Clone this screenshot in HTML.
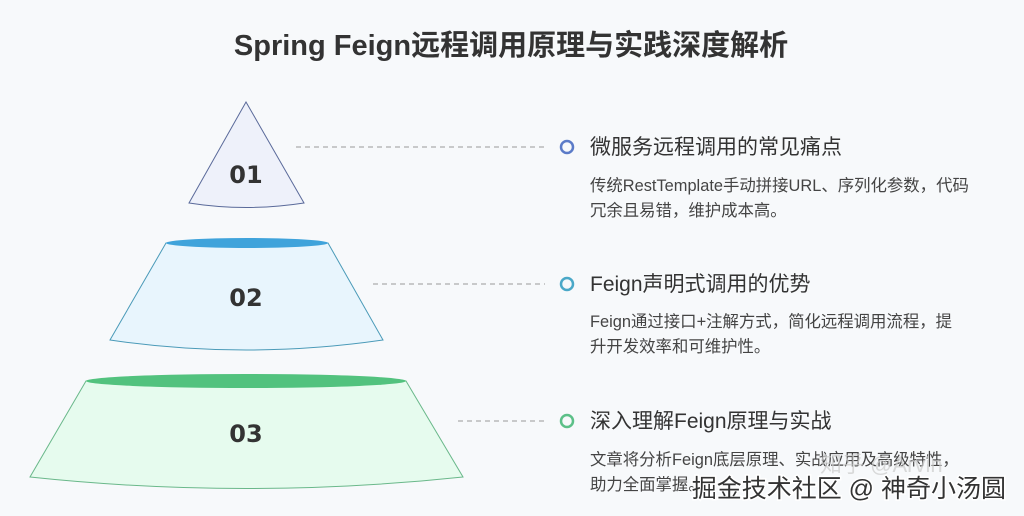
<!DOCTYPE html>
<html><head><meta charset="utf-8"><style>
body{margin:0;width:1024px;height:516px;background:#f7f9fb;overflow:hidden;font-family:"Liberation Sans","Noto Sans CJK SC",sans-serif;}
</style></head><body>
<svg width="1024" height="516" xmlns="http://www.w3.org/2000/svg" style="position:absolute;left:0;top:0">
<text x="511" y="55" text-anchor="middle" font-size="29" font-weight="bold" fill="#333" font-family="Liberation Sans, Noto Sans CJK SC, sans-serif">Spring Feign远程调用原理与实践深度解析</text>
<path d="M246,102 L304,203 Q246,212 189,203 Z" fill="#eef1fa" stroke="#5a6a9a" stroke-width="1"/>
<path d="M166,243 L328,243 L383,340 Q246,360 110,340 Z" fill="#e8f5fd" stroke="#4a9ab8" stroke-width="1"/>
<ellipse cx="247" cy="243" rx="81" ry="5" fill="#3fa3db"/>
<path d="M86,381 L406,381 L463,477 Q246,500 30,477 Z" fill="#e6fbee" stroke="#6ab88a" stroke-width="1"/>
<ellipse cx="246" cy="381" rx="160" ry="7" fill="#52c27e"/>
<g font-size="24" font-weight="bold" fill="#333" text-anchor="middle" font-family="DejaVu Sans, sans-serif">
<text x="246" y="183">01</text><text x="246" y="306">02</text><text x="246" y="442">03</text></g>
<g stroke="#999" stroke-dasharray="5,4" stroke-width="1">
<line x1="296" y1="147" x2="545" y2="147"/><line x1="373" y1="284" x2="545" y2="284"/><line x1="458" y1="421" x2="545" y2="421"/></g>
<circle cx="567" cy="147" r="6" fill="none" stroke="#5b7bc8" stroke-width="2.5"/>
<circle cx="567" cy="284" r="6" fill="none" stroke="#4aa8c8" stroke-width="2.5"/>
<circle cx="567" cy="421" r="6" fill="none" stroke="#5cc088" stroke-width="2.5"/>
<g fill="#333" font-size="21" font-family="Liberation Sans, Noto Sans CJK SC, sans-serif">
<text x="590" y="154">微服务远程调用的常见痛点</text>
<text x="590" y="291">Feign声明式调用的优势</text>
<text x="590" y="428">深入理解Feign原理与实战</text></g>
<g fill="#444" font-size="16.4" font-family="Liberation Sans, Noto Sans CJK SC, sans-serif">
<text x="590" y="191">传统RestTemplate手动拼接URL、序列化参数，代码</text>
<text x="590" y="216">冗余且易错，维护成本高。</text>
<text x="590" y="327">Feign通过接口+注解方式，简化远程调用流程，提</text>
<text x="590" y="352">升开发效率和可维护性。</text>
<text x="590" y="465">文章将分析Feign底层原理、实战应用及高级特性，</text>
<text x="590" y="490">助力全面掌握。</text></g>
<text x="820" y="472" font-size="22" fill="#ccc" opacity="0.7">知乎 @Arvin</text>
<text x="1006" y="497" text-anchor="end" font-size="25" fill="#333" stroke="#fff" stroke-width="3" paint-order="stroke" font-family="Liberation Sans, Noto Sans CJK SC, sans-serif">掘金技术社区 @ 神奇小汤圆</text>
</svg>
</body></html>
